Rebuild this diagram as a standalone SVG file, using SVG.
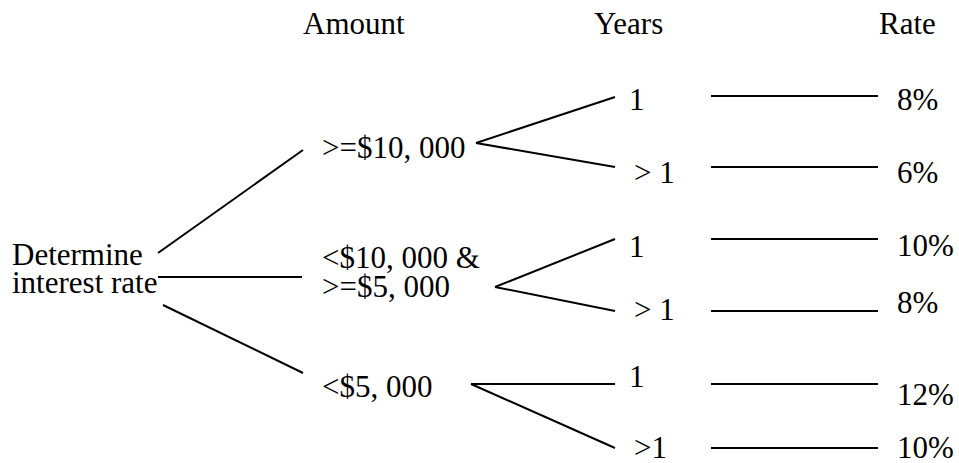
<svg xmlns="http://www.w3.org/2000/svg" width="959" height="463" viewBox="0 0 959 463">
<style>
text{font-family:'Liberation Serif','Times New Roman','DejaVu Serif',serif;font-size:31px;fill:#000}
.c line{stroke:#000;stroke-width:2;fill:none}
</style>
<rect width="959" height="463" fill="#fff"/>
<g id="headers" font-family="Liberation Serif">
<text x="303" y="34">Amount</text>
<text x="594" y="34">Years</text>
<text x="879" y="34">Rate</text>
</g>
<g id="root" font-family="Liberation Serif"><text x="12" y="265">Determine</text><text x="12" y="293">interest rate</text></g>
<g id="amt1" font-family="Liberation Serif"><text x="322" y="158">&gt;=$10, 000</text></g>
<g id="amt2" font-family="Liberation Serif"><text x="322" y="268">&lt;$10, 000 &amp;</text><text x="322" y="297">&gt;=$5, 000</text></g>
<g id="amt3" font-family="Liberation Serif"><text x="322" y="397">&lt;$5, 000</text></g>
<g id="y1a"><text x="629" y="110">1</text></g>
<g id="y1b"><text x="634" y="183">&gt; 1</text></g>
<g id="y2a"><text x="629" y="257">1</text></g>
<g id="y2b"><text x="634" y="320">&gt; 1</text></g>
<g id="y3a"><text x="629" y="387">1</text></g>
<g id="y3b"><text x="634" y="458">&gt;1</text></g>
<g id="r1a"><text x="897" y="110">8%</text></g>
<g id="r1b"><text x="897" y="183">6%</text></g>
<g id="r2a"><text x="897" y="256">10%</text></g>
<g id="r2b"><text x="897" y="313">8%</text></g>
<g id="r3a"><text x="897" y="405">12%</text></g>
<g id="r3b"><text x="897" y="458">10%</text></g>
<g class="c" id="connectors">
<line x1="158" y1="253" x2="303" y2="150"/>
<line x1="158" y1="277" x2="302" y2="277"/>
<line x1="163" y1="305" x2="303" y2="373"/>
<line x1="476" y1="143" x2="615" y2="97"/>
<line x1="476" y1="143" x2="615" y2="167"/>
<line x1="495" y1="287" x2="615" y2="239"/>
<line x1="495" y1="287" x2="615" y2="311"/>
<line x1="471" y1="384" x2="615" y2="384"/>
<line x1="471" y1="384" x2="615" y2="448"/>
<line x1="711" y1="96" x2="878" y2="96"/>
<line x1="711" y1="167" x2="878" y2="167"/>
<line x1="711" y1="239" x2="878" y2="239"/>
<line x1="711" y1="311" x2="878" y2="311"/>
<line x1="711" y1="384" x2="878" y2="384"/>
<line x1="711" y1="448" x2="878" y2="448"/>
</g>
</svg>
